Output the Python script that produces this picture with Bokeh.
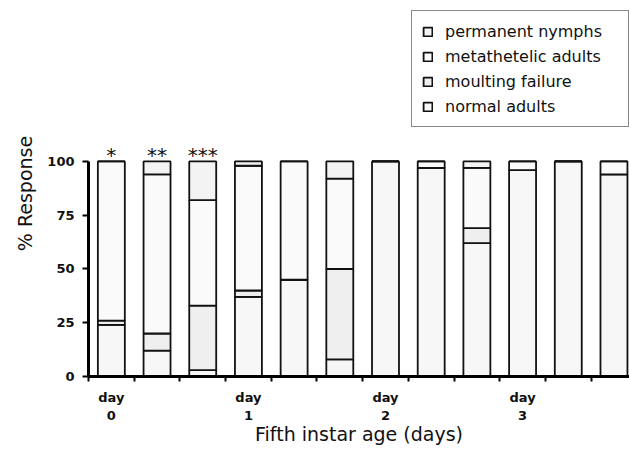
from bokeh.plotting import figure
from bokeh.models import Range1d, FixedTicker, Legend, LegendItem, ColumnDataSource
from bokeh.core.properties import value
from bokeh.embed import file_html
from bokeh.resources import INLINE

# ---- data ----
bar_index = list(range(12))
normal_adults = [24, 12, 3, 37, 45, 8, 100, 97, 62, 96, 100, 94]
moulting_failure = [2, 8, 30, 3, 0, 42, 0, 0, 7, 0, 0, 0]
metathetelic_adults = [74, 74, 49, 58, 55, 42, 0, 3, 28, 4, 0, 6]
permanent_nymphs = [0, 6, 18, 2, 0, 8, 0, 0, 3, 0, 0, 0]
series_names = ["normal adults", "moulting failure", "metathetelic adults", "permanent nymphs"]
series_colors = ["#f7f7f7", "#efefef", "#fafafa", "#f3f3f3"]

star_bars = [0, 1, 2]
star_labels = ["*", "**", "***"]

day_ticks = [0, 3, 6, 9]
day_labels = ["day\n0", "day\n1", "day\n2", "day\n3"]
y_ticks = [0, 25, 50, 75, 100]

FONT = "DejaVu Sans"

source = ColumnDataSource(dict(
    x=bar_index,
    normal_adults=normal_adults,
    moulting_failure=moulting_failure,
    metathetelic_adults=metathetelic_adults,
    permanent_nymphs=permanent_nymphs,
))
stackers = ["normal_adults", "moulting_failure", "metathetelic_adults", "permanent_nymphs"]

p = figure(
    frame_width=541, frame_height=366,
    min_border_left=88, min_border_right=0, min_border_top=10, min_border_bottom=70,
    x_range=Range1d(-0.5, 11.34), y_range=Range1d(0, 170.2),
    output_backend="svg", toolbar_location=None,
)
p.outline_line_color = None
p.xgrid.grid_line_color = None
p.ygrid.grid_line_color = None

renderers = p.vbar_stack(stackers, x="x", width=0.59, source=source,
                         fill_color=series_colors, line_color="#111111", line_width=1.8)

# stars above bars
totals = [a + b + c + d for a, b, c, d in zip(normal_adults, moulting_failure,
                                               metathetelic_adults, permanent_nymphs)]
p.text(x=star_bars, y=[totals[i] for i in star_bars], text=star_labels,
       text_align="center", text_baseline="bottom", y_offset=6,
       text_font_size="20px", text_font=value(FONT), text_color="#111111")

# y axis
ya = p.yaxis[0]
ya.ticker = FixedTicker(ticks=y_ticks)
ya.bounds = (0, 100)
ya.axis_line_width = 3
ya.axis_line_color = "#000000"
ya.major_tick_line_width = 2
ya.major_tick_line_color = "#000000"
ya.major_tick_out = 6
ya.major_tick_in = 0
ya.minor_tick_line_color = None
ya.major_label_text_font = FONT
ya.major_label_text_font_style = "bold"
ya.major_label_text_font_size = "13px"
ya.major_label_text_color = "#111111"
ya.major_label_standoff = 8
ya.axis_label = "% Response"
ya.axis_label_text_font = FONT
ya.axis_label_text_font_style = "normal"
ya.axis_label_text_font_size = "19px"
ya.axis_label_text_color = "#111111"
ya.axis_label_standoff = 8

# x axis
xa = p.xaxis[0]
boundaries = [i - 0.5 for i in range(len(bar_index) + 1)]
xa.ticker = FixedTicker(ticks=day_ticks, minor_ticks=boundaries)
xa.major_label_overrides = {t: lab for t, lab in zip(day_ticks, day_labels)}
xa.axis_line_width = 3
xa.axis_line_color = "#000000"
xa.major_tick_out = 0
xa.major_tick_in = 0
xa.minor_tick_line_color = "#000000"
xa.minor_tick_line_width = 2
xa.minor_tick_out = 5
xa.minor_tick_in = 0
xa.major_label_text_font = FONT
xa.major_label_text_font_style = "bold"
xa.major_label_text_font_size = "13px"
xa.major_label_text_color = "#111111"
xa.major_label_standoff = 8
xa.axis_label = "Fifth instar age (days)"
xa.axis_label_text_font = FONT
xa.axis_label_text_font_style = "normal"
xa.axis_label_text_font_size = "19px"
xa.axis_label_text_color = "#111111"
xa.axis_label_standoff = -3

# legend (reverse stacking order)
items = [LegendItem(label=name, renderers=[r]) for name, r in zip(series_names, renderers)]
items.reverse()
legend = Legend(items=items, location="top_right", margin=0, padding=10,
                spacing=5, label_height=20, glyph_width=11, glyph_height=11,
                label_standoff=12, label_width=173,
                label_text_font=FONT, label_text_font_size="16px",
                label_text_color="#111111",
                border_line_color="#111111", border_line_width=1,
                background_fill_color="white", background_fill_alpha=1)
p.add_layout(legend)

open("out.html", "w").write(file_html(p, INLINE))
